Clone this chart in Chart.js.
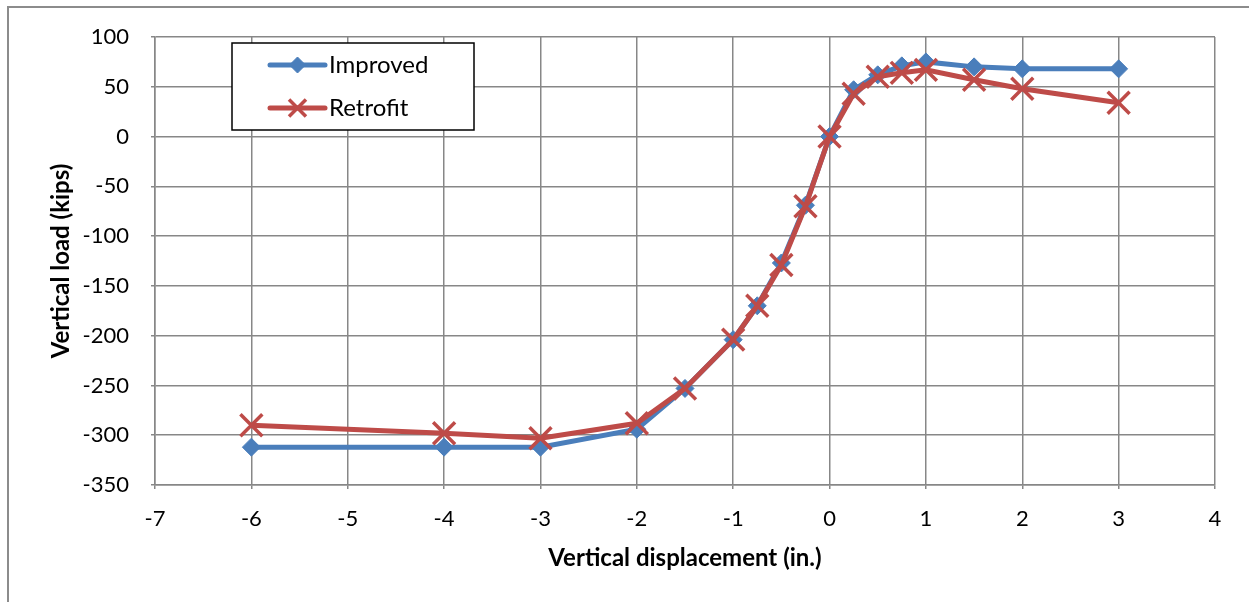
<!DOCTYPE html>
<html>
<head>
<meta charset="utf-8">
<script src="https://cdn.jsdelivr.net/npm/chart.js@4.4.1/dist/chart.umd.min.js"></script>
<style>
  html, body { margin: 0; padding: 0; background: #fff; }
  #wrap { position: relative; width: 1249px; height: 602px; overflow: hidden; }
  #frame { position: absolute; left: 7px; top: 6px; width: 1400px; height: 800px;
           border-left: 2px solid #8c8c8c; border-top: 2px solid #8c8c8c; }
  canvas { position: absolute; left: 0; top: 0; }
</style>
</head>
<body>
<div id="wrap">
  <div id="frame"></div>
  <canvas id="chartCarga" width="1249" height="602"></canvas>
</div>
<script>
// datos (desplazamiento en pulgadas, carga en kips)
const displacement = [-6, -4, -3, -2, -1.5, -1, -0.75, -0.5, -0.25, 0, 0.25, 0.5, 0.75, 1, 1.5, 2, 3];
const improvedLoad = [-312, -312, -312, -294, -253, -204, -170, -127, -69, 0, 47, 62, 71, 75, 70, 68, 68];
const retrofitLoad = [-290, -298, -303, -288, -253, -204, -170, -129, -70, 0, 43, 60, 64, 67, 57, 48, 34];
const seriesNames = ['Improved', 'Retrofit'];

const X_MIN = -7, X_MAX = 4, X_STEP = 1;
const Y_MIN = -350, Y_MAX = 100, Y_STEP = 50;

const AZUL = '#4a7ebb';
const ROJO = '#be4b48';
const GRIS = '#878787';
const FUENTE = 'Lato, "Open Sans", sans-serif';

const toPoints = ys => displacement.map((x, i) => ({ x: x, y: ys[i] }));

// leyenda dibujada dentro del area del grafico (caja con borde negro)
const leyendaCaja = {
    id: 'leyendaCaja',
    afterDraw(chart) {
        const ctx = chart.ctx;
        const area = chart.chartArea;
        const bx = area.left + 77, by = area.top + 6, bw = 242, bh = 87;
        ctx.save();
        ctx.fillStyle = '#fff';
        ctx.fillRect(bx, by, bw, bh);
        ctx.strokeStyle = '#000';
        ctx.lineWidth = 1.5;
        ctx.strokeRect(bx, by, bw, bh);

        chart.data.datasets.forEach((ds, i) => {
            const y = by + 22 + i * 43;
            const x0 = bx + 38, x1 = bx + 93;
            ctx.strokeStyle = ds.borderColor;
            ctx.lineWidth = 5;
            ctx.lineCap = 'round';
            ctx.beginPath();
            ctx.moveTo(x0, y);
            ctx.lineTo(x1, y);
            ctx.stroke();
            ctx.fillStyle = ds.pointBackgroundColor;
            ctx.strokeStyle = ds.pointBorderColor;
            ctx.lineWidth = ds.pointBorderWidth;
            ctx.lineCap = 'butt';
            Chart.helpers.drawPoint(ctx, {
                pointStyle: ds.pointStyle,
                radius: ds.pointStyle === 'crossRot' ? 12 : 8,
                borderWidth: ds.pointBorderWidth,
                rotation: 0
            }, (x0 + x1) / 2, y);
            ctx.fillStyle = '#000';
            ctx.font = '24px ' + FUENTE;
            ctx.textBaseline = 'middle';
            ctx.textAlign = 'left';
            ctx.fillText(ds.label, x1 + 4, y);
        });
        ctx.restore();
    }
};

const ctxCarga = document.getElementById('chartCarga');
new Chart(ctxCarga, {
    type: 'scatter',
    data: {
        datasets: [
            {
                label: seriesNames[0],
                data: toPoints(improvedLoad),
                showLine: true,
                borderColor: AZUL,
                borderWidth: 5,
                pointStyle: 'rectRot',
                pointRadius: 9,
                pointBackgroundColor: AZUL,
                pointBorderColor: AZUL,
                pointBorderWidth: 1,
                order: 2
            },
            {
                label: seriesNames[1],
                data: toPoints(retrofitLoad),
                showLine: true,
                borderColor: ROJO,
                borderWidth: 5,
                pointStyle: 'crossRot',
                pointRadius: 15.5,
                pointBackgroundColor: ROJO,
                pointBorderColor: ROJO,
                pointBorderWidth: 3.5,
                order: 1
            }
        ]
    },
    options: {
        responsive: false,
        animation: false,
        layout: { padding: { left: 0, top: 37, right: 34, bottom: 0 } },
        plugins: {
            legend: { display: false },
            tooltip: { enabled: false }
        },
        scales: {
            x: {
                type: 'linear',
                min: X_MIN,
                max: X_MAX,
                afterFit: s => { s.height = 117; },
                ticks: { stepSize: X_STEP, color: '#000', font: { family: FUENTE, size: 22 }, padding: 17 },
                grid: { color: GRIS, lineWidth: 1.5, tickLength: 4 },
                border: { color: GRIS, width: 1.5 },
                title: {
                    display: true,
                    text: 'Vertical displacement (in.)',
                    color: '#000',
                    font: { family: FUENTE, size: 24, weight: 'bold' },
                    padding: { top: 0, bottom: 29 }
                }
            },
            y: {
                type: 'linear',
                min: Y_MIN,
                max: Y_MAX,
                afterFit: s => { s.width = 155; },
                ticks: { stepSize: Y_STEP, color: '#000', font: { family: FUENTE, size: 22 }, padding: 22 },
                grid: { color: GRIS, lineWidth: 1.5, tickLength: 4 },
                border: { color: GRIS, width: 1.5 },
                title: {
                    display: true,
                    text: 'Vertical load (kips)',
                    color: '#000',
                    font: { family: FUENTE, size: 24, weight: 'bold' },
                    padding: { top: 47, bottom: 0 }
                }
            }
        }
    },
    plugins: [leyendaCaja]
});
</script>
</body>
</html>
